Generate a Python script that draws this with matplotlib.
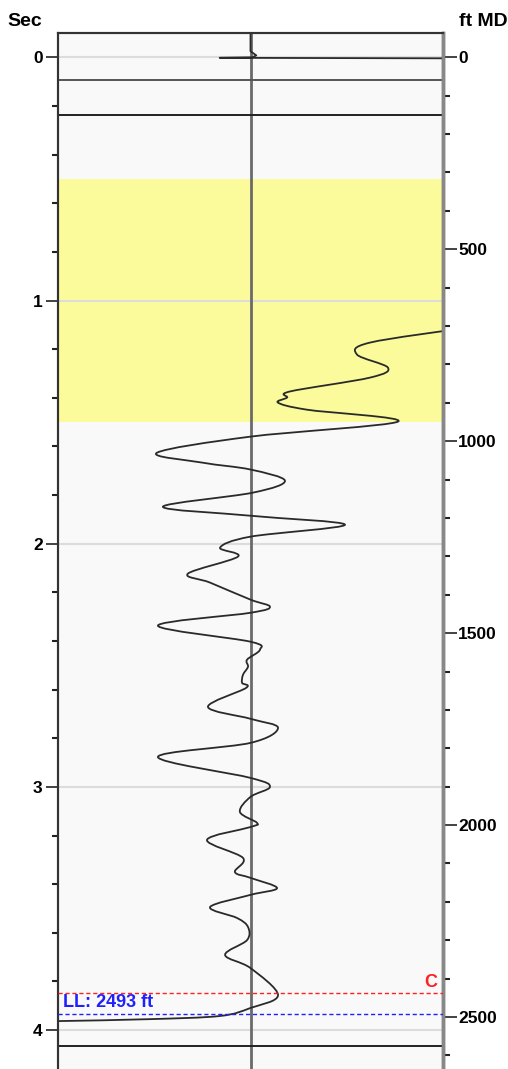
import matplotlib.pyplot as plt
from matplotlib.path import Path
from matplotlib.patches import PathPatch
import numpy as np

# trace: two-way time (s) vs amplitude (-1..1 across the track)
# top part: spike at 0 s then off-scale to the right
top_sec = [-0.11, -0.025, -0.008, 0.0, 0.002, 0.006, 1.10]
top_amp = [0.0, 0.0, 0.03, 0.01, -0.16, 2.0, 2.0]
# main part, re-entering the track at about 1.11 s
trace_sec = [1.08, 1.110, 1.173, 1.222, 1.276, 1.317, 1.374, 1.399, 1.420, 1.449, 1.498,
             1.560, 1.626, 1.667, 1.695, 1.741, 1.790, 1.848, 1.885, 1.922, 1.971,
             2.016, 2.053, 2.123, 2.160, 2.230, 2.259, 2.284, 2.337, 2.403, 2.436,
             2.477, 2.506, 2.539, 2.572, 2.593, 2.671, 2.720, 2.757, 2.819, 2.877,
             2.963, 3.000, 3.041, 3.103, 3.148, 3.165, 3.218, 3.292, 3.350, 3.374,
             3.416, 3.444, 3.494, 3.539, 3.576, 3.630, 3.691, 3.745, 3.856, 3.909,
             3.942, 3.955, 3.963, 3.965]
trace_amp = [1.4, 1.14, 0.621, 0.553, 0.714, 0.621, 0.205, 0.190, 0.143, 0.294, 0.766,
             -0.003, -0.486, -0.247, 0.0, 0.179, 0.013, -0.455, 0.0, 0.491, 0.0,
             -0.158, -0.065, -0.325, -0.210, 0.0, 0.101, 0.0, -0.481, 0.0, 0.049,
             -0.018, -0.013, -0.039, -0.044, -0.023, -0.221, 0.0, 0.143, 0.0, -0.481,
             0.0, 0.101, 0.0, -0.055, 0.034, 0.0, -0.226, -0.039, -0.081, 0.0,
             0.138, 0.0, -0.210, -0.070, -0.013, -0.018, -0.132, 0.0, 0.143, 0.0,
             -0.158, -0.522, -1.0, -1.2]

sec_ticks = [0, 1, 2, 3, 4]
ft_ticks = [0, 500, 1000, 1500, 2000, 2500]
ft_per_sec = 633.5

band = (0.5, 1.5)                      # highlighted interval, s
marker_sec = [0.093, 0.239, 4.067]     # horizontal marker lines, s
marker_col = ['#555555', '#222222', '#222222']
c_ft = 2437
ll_ft = 2493

ytop, ybot = -0.1, 4.16
FONT = ['Liberation Sans', 'DejaVu Sans']


def smooth_path(xs, ys):
    # catmull-rom through the points, drawn as cubic bezier segments
    p = np.column_stack([xs, ys])
    verts = [p[0]]
    codes = [Path.MOVETO]
    n = len(p)
    for i in range(n - 1):
        p0 = p[max(i - 1, 0)]
        p1 = p[i]
        p2 = p[i + 1]
        p3 = p[min(i + 2, n - 1)]
        verts += [p1 + (p2 - p0) / 6, p2 - (p3 - p1) / 6, p2]
        codes += [Path.CURVE4] * 3
    return Path(verts, codes)


fig = plt.figure(figsize=(5.08, 10.69), dpi=100)
ax = fig.add_axes([58 / 508, 0, 385 / 508, 1 - 33 / 1069])
ax.set_facecolor('#f9f9f9')
ax.set_xlim(-1, 1)
ax.set_ylim(ybot, ytop)

ax.axhspan(band[0], band[1], color='#fbfb9c', zorder=0.5, lw=0)
for s in sec_ticks:
    ax.axhline(s, color='#dcdcdc', lw=1.5, zorder=1)
for s, c in zip(marker_sec, marker_col):
    ax.axhline(s, color=c, lw=1.4, zorder=3)
ax.axvline(0, color='#6a6a6a', lw=2, zorder=2)

ax.plot(top_amp, top_sec, color='#2a2a2a', lw=1.3, zorder=4, solid_joinstyle='round')
ax.add_patch(PathPatch(smooth_path(trace_amp, trace_sec), fc='none', ec='#2a2a2a',
                       lw=1.3, zorder=4, joinstyle='round'))

ax.set_xticks([])
ax.set_yticks(sec_ticks)
ax.set_yticks(np.arange(0, 4.2, 0.2), minor=True)
ax.tick_params(axis='y', which='major', length=9, width=1.2, color='#222222',
               pad=2, labelsize=12.5)
ax.tick_params(axis='y', which='minor', length=4, width=1.5, color='#222222')
for lab in ax.get_yticklabels():
    lab.set_fontweight('bold')
    lab.set_family(FONT)

ax2 = ax.twinx()
ax2.set_ylim(ybot * ft_per_sec, ytop * ft_per_sec)
ax2.set_yticks(ft_ticks)
ax2.set_yticks(np.arange(0, 2700, 100), minor=True)
ax2.tick_params(axis='y', which='major', length=10, width=1.2, color='#222222',
                pad=1, labelsize=12.5)
ax2.tick_params(axis='y', which='minor', length=5, width=1.5, color='#222222')
for lab in ax2.get_yticklabels():
    lab.set_fontweight('bold')
    lab.set_family(FONT)

ax2.axhline(c_ft, color='#ff2020', lw=1, ls=(0, (3, 2)), zorder=5)
ax2.axhline(ll_ft, color='#2020ff', lw=1, ls=(0, (3, 2)), zorder=5)
ax2.text(0.985, c_ft - 4, 'C', color='#ff2020', fontsize=13, fontweight='bold',
         family=FONT, ha='right', va='bottom', transform=ax2.get_yaxis_transform())
ax2.text(0.012, ll_ft - 8, 'LL: 2493 ft', color='#2020ff', fontsize=13, fontweight='bold',
         family=FONT, ha='left', va='bottom', transform=ax2.get_yaxis_transform())

for a in (ax, ax2):
    a.spines['bottom'].set_visible(False)
    a.spines['top'].set_color('#333333')
    a.spines['top'].set_linewidth(1.5)
    a.spines['left'].set_color('#333333')
    a.spines['left'].set_linewidth(1.5)
    a.spines['right'].set_color('#888888')
    a.spines['right'].set_linewidth(2.5)

fig.text(25 / 508, 1 - 21 / 1069, 'Sec', fontsize=14, fontweight='bold',
         family=FONT, ha='center', va='center')
fig.text(483 / 508, 1 - 21 / 1069, 'ft MD', fontsize=14, fontweight='bold',
         family=FONT, ha='center', va='center')

fig.savefig('out.png', dpi=100)
